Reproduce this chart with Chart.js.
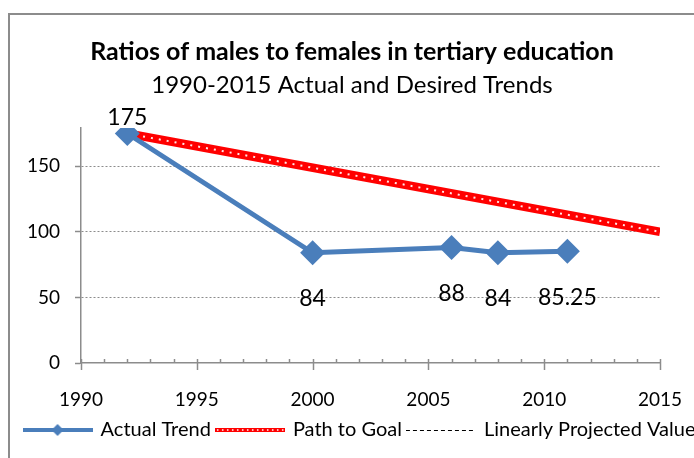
<!DOCTYPE html>
<html>
<head>
<meta charset="utf-8">
<script src="https://cdn.jsdelivr.net/npm/chart.js@4/dist/chart.umd.min.js"></script>
<style>
  html, body { margin: 0; padding: 0; background: #fff; overflow: hidden; }
  #wrap { position: relative; width: 694px; height: 458px; overflow: hidden; }
  #frame { position: absolute; left: 8px; top: 13px; width: 800px; height: 600px; border: 2px solid #8c8c8c; }
  #c { position: absolute; left: 0; top: 0; }
</style>
</head>
<body>
<div id="wrap">
  <div id="frame"></div>
  <canvas id="c" width="720" height="458"></canvas>
</div>
<script>
// data
var actualYears = [1992, 2000, 2006, 2008, 2011];
var actualValues = [175, 84, 88, 84, 85.25];
var goalYears = [1992, 2015];
var goalValues = [175, 100];
var projectedYears = [];
var projectedValues = [];
var xTicks = [1990, 1995, 2000, 2005, 2010, 2015];
var yTicks = [0, 50, 100, 150];

var titleText = 'Ratios of males to females in tertiary education';
var subtitleText = '1990-2015 Actual and Desired Trends';

var FONT = 'Lato';
var BLUE = '#4a7ebb';
var GREY = '#8c8c8c';

function pts(xs, ys) {
  return xs.map(function(x, i) { return {x: x, y: ys[i]}; });
}

// little pictures for the legend
function legendIcon(kind) {
  var cv = document.createElement('canvas');
  cv.width = 70; cv.height = 14;
  var g = cv.getContext('2d');
  if (kind == 'actual') {
    g.strokeStyle = BLUE; g.lineWidth = 4;
    g.beginPath(); g.moveTo(0, 7); g.lineTo(70, 7); g.stroke();
    g.fillStyle = BLUE;
    g.beginPath(); g.moveTo(35, 1); g.lineTo(41, 7); g.lineTo(35, 13); g.lineTo(29, 7); g.closePath(); g.fill();
  } else if (kind == 'goal') {
    g.strokeStyle = '#ff0000'; g.lineWidth = 4;
    g.beginPath(); g.moveTo(0, 7); g.lineTo(70, 7); g.stroke();
    g.strokeStyle = '#ffffff'; g.lineWidth = 1.5; g.setLineDash([1.5, 3.5]);
    g.beginPath(); g.moveTo(2, 7); g.lineTo(70, 7); g.stroke();
  } else {
    g.strokeStyle = '#000'; g.lineWidth = 1; g.setLineDash([4, 3]);
    g.beginPath(); g.moveTo(0, 7.5); g.lineTo(70, 7.5); g.stroke();
  }
  return cv;
}

// the two heading lines; the original sits a bit left of the canvas centre
var headings = {
  id: 'headings',
  afterDraw: function(chart) {
    var ctx = chart.ctx;
    ctx.save();
    ctx.fillStyle = '#000';
    ctx.textAlign = 'center';
    ctx.textBaseline = 'middle';
    ctx.font = 'bold 25px ' + FONT;
    ctx.fillText(titleText, 352, 52);
    ctx.font = '24px ' + FONT;
    ctx.fillText(subtitleText, 352, 85);
    ctx.restore();
  }
};

// value labels next to the diamonds
var valueLabels = {
  id: 'valueLabels',
  afterDatasetsDraw: function(chart) {
    var ctx = chart.ctx;
    var meta = chart.getDatasetMeta(0);
    ctx.save();
    ctx.font = '23px ' + FONT;
    ctx.fillStyle = '#000';
    ctx.textAlign = 'center';
    ctx.textBaseline = 'middle';
    meta.data.forEach(function(el, i) {
      var v = actualValues[i];
      var dy = i == 0 ? -16 : 46;
      ctx.fillText(String(v), el.x, el.y + dy);
    });
    ctx.restore();
  }
};

// year ticks on the x axis (minor every year, major every 5)
var yearTicks = {
  id: 'yearTicks',
  afterDraw: function(chart) {
    var sx = chart.scales.x;
    var b = chart.chartArea.bottom;
    var ctx = chart.ctx;
    ctx.save();
    ctx.strokeStyle = GREY;
    ctx.lineWidth = 1.5;
    for (var yr = 1990; yr <= 2015; yr++) {
      var px = Math.round(sx.getPixelForValue(yr)) + 0.5;
      ctx.beginPath();
      if (yr % 5 == 0) { ctx.moveTo(px, b - 4); ctx.lineTo(px, b + 7); }
      else { ctx.moveTo(px, b - 4); ctx.lineTo(px, b); }
      ctx.stroke();
    }
    ctx.restore();
  }
};

var ctx = document.getElementById('c').getContext('2d');
var chart = new Chart(ctx, {
  type: 'line',
  data: {
    datasets: [{
      label: 'Actual Trend',
      data: pts(actualYears, actualValues),
      borderColor: BLUE,
      backgroundColor: BLUE,
      borderWidth: 5,
      pointStyle: 'rectRot',
      pointRadius: 12.5,
      pointHoverRadius: 12.5,
      pointBorderWidth: 0,
      fill: false,
      order: 0
    }, {
      label: 'Path to Goal',
      data: pts(goalYears, goalValues),
      borderColor: '#ff0000',
      borderWidth: 8.5,
      pointRadius: 0,
      fill: false,
      order: 2
    }, {
      label: '_dots',
      data: pts(goalYears, goalValues),
      borderColor: 'rgba(255,255,255,0.9)',
      borderWidth: 2,
      borderDash: [2, 6],
      pointRadius: 0,
      fill: false,
      order: 1
    }, {
      label: 'Linearly Projected Value',
      data: pts(projectedYears, projectedValues),
      borderColor: '#000',
      borderWidth: 1,
      borderDash: [4, 3],
      pointRadius: 0,
      fill: false
    }]
  },
  options: {
    responsive: false,
    animation: false,
    layout: { padding: { left: 0, right: 0, top: 128, bottom: 8 } },
    plugins: {
      title: { display: false },
      legend: {
        position: 'bottom',
        labels: {
          usePointStyle: true,
          pointStyleWidth: 66,
          boxHeight: 14,
          padding: 6,
          color: '#000',
          font: { family: FONT, size: 20 },
          filter: function(item) { return item.text.charAt(0) != '_'; },
          generateLabels: function(ch) {
            var kinds = ['actual', 'goal', null, 'proj'];
            return ch.data.datasets.map(function(ds, i) {
              return {
                text: ds.label,
                datasetIndex: i,
                pointStyle: legendIcon(kinds[i]),
                fillStyle: 'transparent',
                strokeStyle: 'transparent',
                lineWidth: 0,
                hidden: false
              };
            });
          }
        }
      },
      tooltip: { enabled: false }
    },
    scales: {
      x: {
        type: 'linear',
        min: xTicks[0],
        max: xTicks[xTicks.length - 1],
        grid: { display: false, drawTicks: false },
        border: { display: true, color: GREY, width: 1.5 },
        afterBuildTicks: function(s) { s.ticks = xTicks.map(function(v) { return {value: v}; }); },
        afterFit: function(s) { s.height = 51; },
        ticks: {
          color: '#000',
          padding: 25,
          maxRotation: 0,
          font: { family: FONT, size: 19 },
          callback: function(v) { return String(v); }
        }
      },
      y: {
        min: 0,
        max: 179.2,
        afterBuildTicks: function(s) { s.ticks = yTicks.map(function(v) { return {value: v}; }); },
        afterFit: function(s) { s.width = 81; },
        grid: {
          color: function(c) { return c.tick && c.tick.value == 0 ? 'transparent' : '#8c8c8c'; },
          lineWidth: 1,
          drawTicks: true,
          tickLength: 6,
          tickColor: GREY,
          tickWidth: 1.5
        },
        border: { display: true, color: GREY, width: 1.5, dash: [2, 2] },
        ticks: {
          color: '#000',
          padding: 15,
          font: { family: FONT, size: 19 }
        }
      },
      // empty axis on the right only reserves room so the plot ends at 2015
      spacer: {
        type: 'linear',
        position: 'right',
        display: true,
        grid: { display: false, drawTicks: false },
        border: { display: false },
        ticks: { display: false },
        afterFit: function(s) { s.width = 60; }
      }
    }
  },
  plugins: [headings, valueLabels, yearTicks]
});
</script>
</body>
</html>
